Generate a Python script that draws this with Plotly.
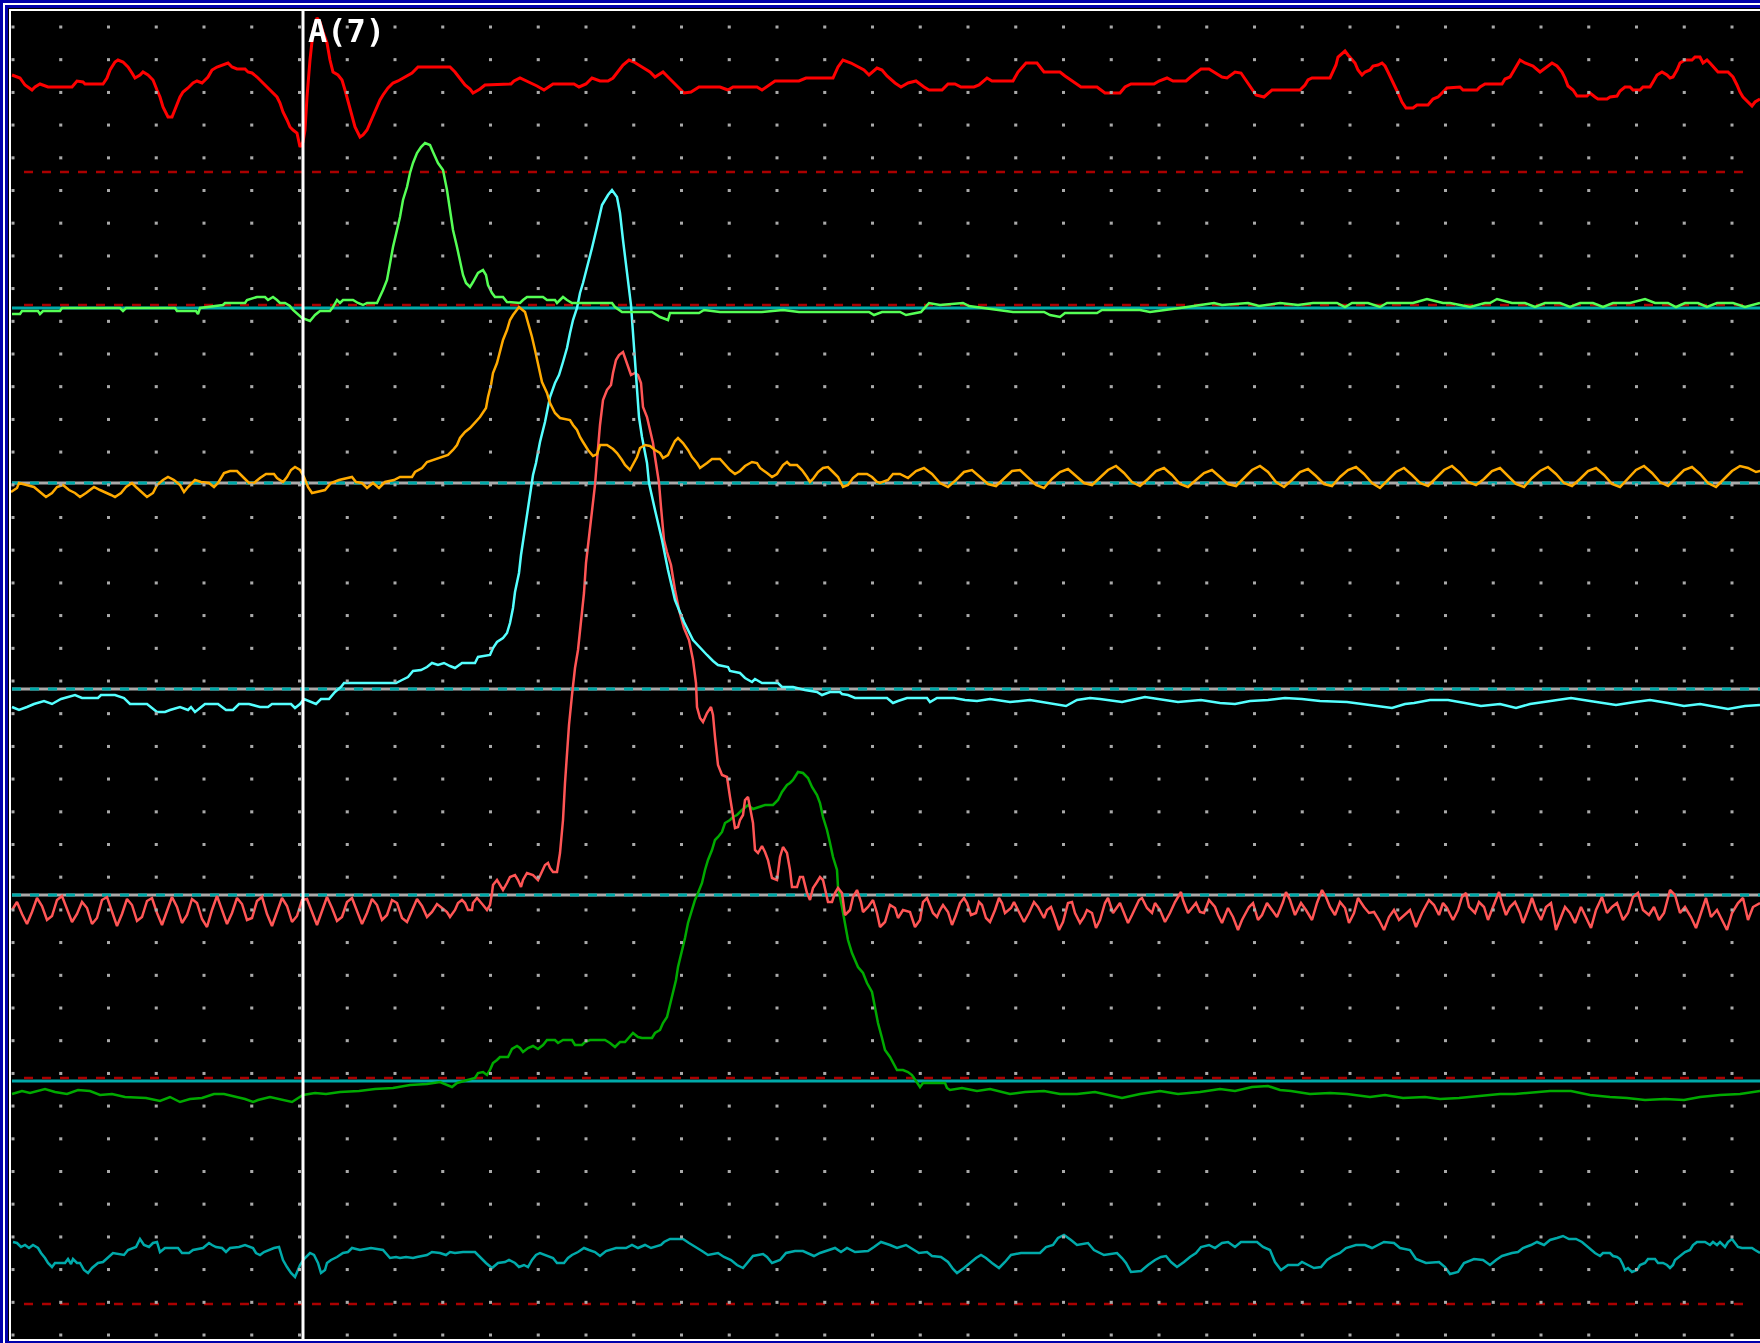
import numpy as np
import plotly.graph_objects as go

# ---------------- data (time in screen samples, level in screen rows) ----------------
RED_SAMPLES = [(12,75),(20,78),(25,85),(32,90),(35,87),(40,84),(48,87),(72,87),(77,81),(83,82),(85,84),(103,84),(107,78),(110,70),(115,62),(118,60),(123,62),(128,67),(132,73),(135,78),(140,75),(143,72),(148,75),(153,80),(157,90),(160,97),(163,107),(168,117),(172,117),(175,110),(180,97),(183,92),(188,88),(193,83),(197,81),(202,83),(205,80),(208,77),(212,70),(217,67),(228,63),(232,67),(237,69),(245,69),(248,72),(252,73),(257,77),(262,82),(267,86),(270,89),(273,92),(277,97),(280,103),(283,112),(287,120),(290,127),(293,130),(297,133),(300,147),(303,142),(305,130),(307,97),(310,60),(313,32),(317,18),(320,22),(323,32),(327,43),(330,60),(333,72),(338,75),(342,80),(345,90),(348,102),(352,115),(355,127),(360,137),(363,135),(367,130),(370,123),(373,117),(377,108),(380,100),(383,95),(388,88),(393,83),(398,81),(405,77),(412,73),(418,67),(450,67),(455,72),(460,78),(465,85),(470,89),(473,93),(480,89),(485,85),(511,84),(514,81),(520,78),(529,82),(537,86),(544,90),(549,87),(553,84),(574,84),(579,87),(586,84),(592,78),(600,81),(608,81),(613,78),(618,72),(623,65),(629,60),(634,62),(642,67),(650,72),(655,77),(663,72),(668,77),(676,85),(684,93),(691,92),(699,87),(720,87),(728,90),(733,87),(757,87),(762,90),(770,84),(775,81),(799,81),(806,78),(814,78),(833,78),(838,67),(843,60),(851,63),(856,66),(864,70),(869,75),(877,68),(882,70),(887,76),(895,83),(901,87),(908,83),(916,81),(924,87),(929,90),(942,90),(948,84),(955,84),(961,87),(974,87),(979,85),(987,78),(992,81),(1013,81),(1018,72),(1026,63),(1037,63),(1044,72),(1060,72),(1065,76),(1071,80),(1076,84),(1081,87),(1097,87),(1105,93),(1120,93),(1125,87),(1131,84),(1154,84),(1159,81),(1167,78),(1173,81),(1186,81),(1193,75),(1201,69),(1209,69),(1214,72),(1222,77),(1227,78),(1235,72),(1241,73),(1246,80),(1251,87),(1256,95),(1264,97),(1272,90),(1300,90),(1305,85),(1308,80),(1312,78),(1330,78),(1333,72),(1336,65),(1338,57),(1342,53),(1345,51),(1348,55),(1352,60),(1355,63),(1358,70),(1362,75),(1365,72),(1370,70),(1373,66),(1378,65),(1382,63),(1385,66),(1388,72),(1392,80),(1395,86),(1398,93),(1402,102),(1406,108),(1413,108),(1417,105),(1428,105),(1433,99),(1438,97),(1442,93),(1447,88),(1460,87),(1463,90),(1477,90),(1480,87),(1485,84),(1502,84),(1505,79),(1510,77),(1513,72),(1517,65),(1520,60),(1525,63),(1533,66),(1540,72),(1545,68),(1552,63),(1557,66),(1562,72),(1565,78),(1568,86),(1573,90),(1577,96),(1587,96),(1590,93),(1595,97),(1598,99),(1607,99),(1610,97),(1617,96),(1620,91),(1625,87),(1630,87),(1633,90),(1640,90),(1643,87),(1650,87),(1653,82),(1657,75),(1662,72),(1667,75),(1670,78),(1673,77),(1677,70),(1680,63),(1685,60),(1692,60),(1695,57),(1700,57),(1703,63),(1707,60),(1710,63),(1713,66),(1718,72),(1728,72),(1733,77),(1737,85),(1740,92),(1743,97),(1748,102),(1752,106),(1755,102),(1760,99)]

GREEN_SAMPLES = [(12,314),(20,314),(22,311),(38,311),(40,314),(43,311),(60,311),(62,308),(120,308),(123,311),(126,308),(175,308),(177,311),(196,311),(198,314),(200,308),(223,305),(225,303),(245,303),(247,300),(257,297),(265,297),(268,300),(273,297),(277,300),(280,303),(285,303),(290,306),(293,310),(298,315),(302,318),(310,321),(315,315),(320,311),(330,311),(333,307),(337,300),(340,303),(343,300),(353,300),(358,303),(363,305),(367,303),(377,303),(380,297),(383,290),(387,280),(390,263),(393,247),(397,230),(400,217),(403,200),(407,187),(410,173),(413,163),(417,153),(421,147),(425,143),(430,145),(433,152),(438,163),(443,170),(447,190),(450,210),(453,230),(457,247),(460,260),(463,275),(466,283),(470,287),(473,282),(478,273),(483,270),(486,275),(488,285),(492,293),(495,297),(503,297),(507,302),(520,303),(523,300),(527,297),(543,297),(547,300),(555,300),(557,303),(560,300),(563,297),(567,300),(572,303),(587,303),(612,303),(615,307),(622,312),(647,312),(652,312),(660,317),(668,320),(670,313),(699,313),(704,310),(720,312),(762,312),(783,310),(799,312),(825,312),(869,312),(874,315),(882,312),(900,312),(906,315),(921,312),(929,303),(940,305),(963,303),(969,306),(1013,312),(1044,312),(1050,315),(1060,317),(1065,313),(1097,313),(1102,310),(1140,310),(1150,312),(1180,308),(1214,303),(1222,305),(1248,303),(1259,306),(1280,303),(1298,305),(1313,303),(1337,303),(1345,307),(1352,303),(1368,303),(1380,307),(1387,303),(1413,303),(1427,299),(1443,303),(1450,303),(1470,307),(1485,303),(1490,303),(1497,299),(1512,303),(1525,303),(1535,307),(1545,303),(1560,303),(1570,307),(1580,303),(1593,303),(1603,307),(1613,303),(1630,303),(1645,299),(1655,303),(1668,303),(1676,307),(1685,303),(1698,303),(1707,307),(1717,303),(1733,303),(1745,307),(1760,303)]

CYAN_SAMPLES = [(12,707),(19,710),(27,707),(34,704),(44,701),(52,704),(61,699),(75,695),(82,698),(98,698),(101,695),(115,695),(124,698),(130,704),(147,704),(151,707),(157,712),(165,712),(170,710),(180,707),(188,710),(191,707),(195,712),(205,704),(218,704),(226,710),(233,710),(239,704),(249,704),(260,707),(268,707),(272,704),(291,704),(295,708),(300,704),(304,699),(312,702),(316,704),(321,699),(329,699),(335,692),(341,687),(344,683),(396,683),(402,680),(408,677),(413,671),(421,670),(427,667),(432,663),(438,665),(444,663),(450,666),(455,668),(462,663),(475,663),(478,657),(490,655),(493,648),(497,642),(503,638),(507,633),(510,623),(513,608),(515,592),(519,573),(521,555),(524,535),(527,515),(530,493),(533,475),(536,463),(540,442),(545,422),(550,397),(555,383),(559,375),(563,362),(567,348),(570,333),(573,320),(577,308),(580,293),(583,283),(587,268),(590,258),(592,248),(597,227),(602,205),(608,195),(612,190),(617,197),(620,213),(623,240),(626,265),(629,290),(631,305),(633,333),(635,360),(637,383),(639,417),(642,437),(647,463),(649,483),(652,497),(655,510),(662,540),(668,570),(675,600),(684,622),(693,640),(700,648),(707,655),(713,661),(718,665),(728,667),(730,671),(740,673),(745,678),(752,682),(755,679),(762,683),(778,683),(782,687),(793,687),(805,690),(817,692),(822,695),(830,692),(840,692),(842,694),(848,695),(855,698),(887,698),(893,703),(898,701),(907,698),(927,698),(930,702),(937,698),(954,698),(965,700),(977,701),(990,699),(1010,702),(1030,700),(1050,703),(1066,706),(1077,700),(1090,698),(1100,699),(1122,702),(1145,697),(1160,699),(1178,702),(1201,700),(1220,703),(1235,704),(1250,701),(1268,700),(1285,698),(1302,699),(1320,701),(1347,702),(1370,705),(1392,708),(1405,704),(1414,703),(1430,700),(1448,700),(1465,703),(1481,706),(1500,704),(1516,708),(1530,704),(1549,701),(1571,698),(1590,701),(1616,705),(1635,702),(1650,700),(1668,703),(1684,706),(1700,704),(1728,709),(1745,706),(1760,705)]

ORANGE_SAMPLES = [(11,492),(17,488),(19,483),(34,487),(40,492),(46,497),(52,493),(57,487),(63,485),(69,490),(75,493),(80,497),(86,493),(94,487),(100,490),(105,492),(111,495),(115,497),(121,493),(126,487),(132,483),(136,487),(142,492),(147,497),(153,493),(157,485),(163,480),(168,477),(174,480),(180,485),(184,492),(188,487),(195,480),(201,482),(209,483),(214,487),(218,483),(224,473),(230,471),(237,471),(243,477),(249,483),(254,483),(260,478),(266,474),(274,474),(277,478),(283,482),(287,477),(291,470),(295,467),(300,470),(304,477),(308,487),(312,493),(316,492),(325,490),(331,483),(339,480),(352,477),(356,482),(362,483),(367,488),(373,483),(379,488),(385,482),(394,480),(400,477),(412,477),(415,472),(422,468),(427,462),(437,459),(443,457),(448,455),(453,450),(457,445),(460,438),(465,432),(470,428),(475,423),(480,417),(486,408),(488,397),(491,385),(493,373),(497,363),(500,352),(503,340),(507,330),(510,320),(513,315),(517,310),(519,307),(525,312),(528,322),(532,337),(535,350),(538,365),(542,382),(547,393),(550,403),(555,413),(560,418),(570,420),(573,425),(577,430),(580,437),(583,442),(588,450),(593,456),(597,454),(600,445),(607,445),(613,449),(617,453),(622,460),(625,465),(630,470),(633,465),(637,457),(640,448),(645,445),(650,446),(655,450),(660,453),(663,458),(668,455),(672,447),(675,441),(678,438),(683,443),(688,450),(692,457),(697,463),(700,468),(707,463),(712,459),(720,459),(725,465),(730,470),(735,474),(740,471),(745,466),(752,462),(757,463),(760,468),(767,473),(772,477),(777,474),(783,465),(787,462),(790,465),(797,465),(802,470),(807,477),(810,482),(813,479),(818,472),(823,468),(828,467),(833,472),(838,477),(843,487),(848,485),(853,478),(858,474),(867,474),(872,477),(877,482),(880,483),(888,480),(893,474),(900,474)]
# tail of the orange channel, evenly sampled from t=908 to t=1764
ORANGE_TAIL = [478,471,468,474,483,487,480,472,470,477,484,486,478,471,470,478,485,488,479,472,469,476,483,485,477,470,466,473,482,486,479,471,468,475,484,487,480,473,470,477,484,486,478,470,466,472,482,487,480,472,469,476,484,486,477,470,467,474,483,488,480,472,468,475,483,486,478,470,466,473,482,485,479,471,468,476,484,487,478,471,467,474,483,486,479,471,468,475,484,487,478,470,466,473,482,486,478,470,467,474,483,487,479,471,466,468,472,470]
ORANGE_TAIL_SPAN = (908, 1764)

# light red channel: noisy head (evenly sampled), pulse, noisy tail
LRED_HEAD = [910,902,914,924,912,898,906,920,916,900,896,910,922,914,902,908,924,918,900,897,912,926,914,899,905,921,917,901,898,913,925,911,897,907,923,915,899,903,919,927,910,896,909,924,913,898,904,920,918,901,897,914,926,912,898,906,922,916,900,899,913,925,911,897,908,921,917,902,898,912,924,913,899,905,920,915,900,903,918,922,910,899,906,917,912,904,908,912]
LRED_HEAD_SPAN = (12, 447)
LRED_PULSE = [(450,917),(455,910),(458,903),(462,900),(465,903),(468,910),(472,910),(473,903),(477,898),(480,902),(483,905),(487,910),(490,905),(492,893),(493,885),(497,880),(500,885),(503,890),(507,883),(510,877),(515,875),(518,880),(521,887),(523,880),(527,873),(533,875),(538,880),(542,872),(545,865),(548,863),(550,868),(553,872),(557,872),(560,853),(563,820),(565,783),(567,750),(569,725),(572,695),(575,668),(578,650),(581,623),(584,593),(586,563),(589,537),(592,510),(595,485),(597,460),(600,425),(603,400),(607,390),(611,385),(613,373),(616,360),(619,355),(623,352),(625,358),(628,367),(631,375),(635,373),(638,375),(641,383),(643,407),(647,417),(650,430),(653,443),(655,457),(657,470),(659,483),(661,507),(664,540),(667,552),(671,565),(675,590),(679,610),(684,628),(689,640),(693,660),(696,683),(697,707),(700,718),(703,722),(707,713),(711,707),(713,715),(715,737),(718,765),(722,775),(727,777),(730,797),(733,817),(735,828),(738,827),(740,820),(743,815),(745,800),(748,797),(750,808),(753,823),(755,850),(758,853),(762,846),(765,852),(768,860),(772,878),(777,880),(778,870),(780,857),(783,847),(787,853),(790,870),(792,887),(797,887),(800,877),(803,877),(807,893),(810,900),(813,888),(817,882),(820,877),(823,880),(826,893),(828,902),(832,902),(835,893),(838,888),(842,893),(845,915),(850,910),(853,897),(857,890),(861,902),(863,912),(868,907),(873,900),(877,913),(880,927),(885,922),(890,905),(895,908),(898,918),(903,910),(910,912),(915,927),(920,920),(923,902),(927,898),(933,913),(937,917),(940,910),(943,905),(948,912),(952,925)]
LRED_TAIL = [(956,915),(960,903),(964,898),(967,903),(971,915),(976,913),(979,902),(982,905),(986,918),(990,922),(995,910),(999,898),(1002,903),(1005,913),(1011,908),(1014,902),(1018,910),(1024,922),(1029,913),(1034,902),(1038,907),(1044,918),(1047,910),(1051,907),(1055,918),(1059,930),(1063,922),(1068,903),(1072,902),(1075,913),(1080,923),(1084,917),(1087,910),(1092,913),(1096,928),(1100,920),(1105,903),(1108,898),(1113,913),(1117,907),(1120,903),(1124,913),(1128,923),(1132,915),(1139,900),(1142,898),(1147,908),(1152,913),(1155,903),(1160,910),(1165,922),(1170,913),(1175,902),(1181,892),(1183,900),(1188,913),(1192,908),(1196,903),(1200,912),(1204,913),(1209,900),(1215,907),(1218,915),(1222,923),(1228,908),(1233,917),(1238,930),(1242,920),(1249,907),(1253,903),(1258,920),(1262,915),(1267,903),(1272,910),(1277,917),(1283,902),(1286,892),(1290,900),(1295,915),(1301,903),(1306,910),(1312,920),(1317,903),(1322,890),(1326,897),(1330,907),(1335,915),(1340,902),(1345,908),(1349,923),(1354,913),(1358,898),(1364,907),(1369,913),(1374,912),(1379,920),(1384,930),(1389,917),(1394,910),(1399,920),(1404,915),(1410,910),(1416,927),(1422,913),(1429,900),(1434,905),(1439,915),(1443,903),(1447,908),(1453,920),(1458,910),(1462,897),(1466,893),(1469,907),(1475,913),(1479,902),(1484,907),(1488,920),(1493,907),(1499,892),(1502,903),(1506,915),(1510,907),(1515,902),(1520,913),(1523,923),(1528,910),(1532,898),(1536,910),(1541,920),(1546,907),(1551,903),(1556,930),(1560,920),(1565,907),(1570,913),(1575,923),(1581,907),(1586,917),(1591,928),(1596,910),(1602,897),(1607,913),(1612,907),(1617,903),(1623,920),(1628,913),(1633,897),(1638,893),(1643,910),(1649,915),(1654,907),(1659,920),(1664,913),(1670,890),(1675,895),(1680,913),(1685,907),(1691,917),(1696,928),(1701,913),(1706,898),(1711,917),(1717,910),(1722,920),(1727,930),(1732,913),(1738,903),(1743,898),(1748,920),(1753,907),(1760,903)]

DGREEN_SAMPLES = [(12,1094),(22,1091),(30,1093),(45,1089),(55,1092),(67,1094),(78,1090),(90,1091),(100,1095),(112,1094),(125,1097),(146,1098),(160,1101),(170,1097),(180,1102),(190,1099),(202,1098),(214,1094),(224,1094),(235,1097),(245,1099),(253,1102),(258,1100),(270,1097),(280,1099),(292,1102),(303,1095),(315,1093),(326,1094),(340,1092),(359,1091),(375,1089),(393,1088),(410,1085),(427,1084),(440,1082),(452,1087),(457,1083),(475,1078),(478,1073),(483,1072),(487,1075),(490,1070),(493,1063),(497,1060),(500,1057),(508,1057),(512,1049),(517,1046),(520,1048),(523,1052),(528,1048),(533,1046),(538,1049),(543,1045),(547,1040),(555,1040),(558,1043),(563,1040),(572,1040),(575,1045),(582,1045),(585,1042),(590,1040),(605,1040),(610,1043),(615,1047),(620,1042),(625,1042),(630,1037),(633,1033),(638,1037),(642,1038),(652,1038),(655,1033),(660,1030),(663,1023),(667,1017),(670,1005),(673,993),(676,980),(678,967),(682,952),(685,938),(688,923),(692,910),(695,900),(698,893),(702,883),(705,870),(708,860),(712,850),(715,840),(718,837),(722,832),(725,823),(730,820),(733,817),(737,815),(742,810),(748,805),(753,809),(758,807),(765,805),(773,805),(778,800),(782,792),(787,785),(790,783),(793,780),(798,772),(803,773),(808,778),(812,787),(817,795),(820,803),(823,817),(827,830),(830,843),(833,857),(837,870),(838,887),(842,907),(845,923),(848,940),(852,953),(855,960),(858,967),(863,973),(867,983),(872,992),(875,1007),(878,1023),(882,1038),(885,1050),(890,1057),(893,1062),(897,1070),(903,1070),(908,1072),(912,1075),(915,1080),(920,1087),(923,1083),(932,1083),(945,1083),(947,1088),(950,1090),(962,1088),(977,1091),(990,1089),(1010,1094),(1025,1092),(1044,1091),(1060,1094),(1077,1094),(1095,1092),(1122,1098),(1140,1094),(1160,1091),(1178,1094),(1200,1092),(1220,1089),(1235,1091),(1252,1087),(1268,1086),(1280,1090),(1291,1091),(1310,1094),(1330,1093),(1347,1094),(1370,1097),(1385,1095),(1403,1098),(1425,1097),(1440,1099),(1459,1098),(1480,1096),(1500,1094),(1515,1094),(1535,1092),(1550,1091),(1571,1091),(1590,1095),(1610,1097),(1627,1098),(1645,1100),(1665,1099),(1684,1100),(1700,1097),(1720,1095),(1740,1094),(1760,1091)]

TEAL_SAMPLES = [(13,1242),(17,1243),(21,1247),(25,1245),(29,1248),(33,1245),(38,1248),(41,1253),(45,1258),(48,1263),(52,1267),(55,1263),(65,1263),(68,1259),(71,1264),(73,1259),(77,1263),(80,1263),(84,1270),(88,1273),(92,1268),(98,1263),(103,1262),(109,1257),(113,1253),(124,1255),(128,1250),(136,1247),(140,1239),(144,1245),(149,1247),(153,1243),(157,1242),(160,1252),(165,1248),(178,1248),(182,1253),(189,1253),(193,1250),(203,1248),(209,1243),(212,1245),(216,1247),(222,1248),(226,1252),(230,1248),(239,1247),(245,1245),(253,1248),(256,1253),(260,1255),(264,1252),(274,1248),(279,1247),(281,1253),(283,1260),(287,1267),(291,1273),(295,1277),(298,1270),(300,1265),(304,1259),(310,1253),(314,1255),(318,1263),(321,1273),(325,1270),(327,1263),(331,1260),(337,1257),(343,1253),(348,1252),(352,1248),(360,1250),(371,1248),(383,1250),(387,1255),(390,1258),(396,1257),(400,1258),(406,1257),(413,1258),(417,1257),(427,1255),(432,1252),(440,1253),(446,1255),(450,1252),(455,1253),(463,1252),(475,1252),(478,1255),(482,1260),(486,1263),(492,1268),(498,1263),(505,1262),(509,1260),(515,1263),(519,1267),(524,1265),(528,1267),(532,1260),(536,1255),(540,1253),(545,1255),(553,1258),(557,1263),(564,1263),(568,1258),(572,1255),(578,1252),(584,1248),(589,1250),(595,1252),(600,1256),(606,1251),(616,1248),(626,1248),(632,1245),(638,1248),(645,1245),(651,1248),(661,1245),(664,1242),(670,1239),(683,1239),(689,1243),(696,1247),(702,1251),(708,1255),(718,1253),(724,1257),(731,1260),(737,1265),(743,1268),(748,1262),(753,1256),(763,1254),(767,1257),(772,1263),(780,1260),(786,1253),(795,1251),(803,1251),(807,1253),(814,1256),(820,1253),(826,1251),(835,1248),(841,1252),(847,1248),(855,1252),(868,1251),(874,1247),(881,1242),(890,1245),(897,1248),(906,1245),(912,1249),(919,1253),(927,1252),(932,1256),(941,1257),(948,1262),(953,1269),(957,1273),(964,1268),(970,1263),(976,1258),(981,1255),(986,1258),(992,1263),(999,1268),(1005,1262),(1011,1255),(1021,1253),(1040,1253),(1046,1247),(1053,1245),(1058,1238),(1064,1235),(1071,1240),(1077,1245),(1088,1243),(1094,1250),(1104,1255),(1117,1253),(1122,1258),(1126,1263),(1131,1272),(1141,1271),(1148,1265),(1155,1260),(1161,1257),(1166,1256),(1171,1262),(1177,1267),(1184,1262),(1190,1257),(1196,1253),(1201,1247),(1209,1245),(1215,1248),(1222,1243),(1228,1242),(1235,1247),(1241,1242),(1257,1242),(1263,1247),(1270,1250),(1275,1262),(1281,1270),(1288,1265),(1298,1265),(1302,1262),(1308,1265),(1314,1268),(1321,1267),(1327,1260),(1333,1256),(1340,1253),(1346,1248),(1356,1245),(1365,1245),(1372,1248),(1378,1245),(1384,1242),(1394,1243),(1400,1248),(1410,1250),(1416,1259),(1426,1263),(1439,1262),(1445,1267),(1450,1274),(1458,1272),(1464,1263),(1474,1259),(1483,1260),(1490,1265),(1496,1260),(1502,1256),(1512,1253),(1518,1252),(1523,1248),(1531,1245),(1537,1242),(1544,1245),(1550,1240),(1557,1238),(1563,1236),(1569,1239),(1576,1239),(1582,1242),(1589,1248),(1595,1253),(1600,1256),(1603,1253),(1610,1253),(1613,1256),(1617,1257),(1620,1259),(1623,1265),(1625,1270),(1628,1268),(1632,1272),(1637,1270),(1640,1265),(1645,1263),(1648,1259),(1655,1259),(1658,1263),(1663,1263),(1667,1265),(1670,1268),(1673,1265),(1675,1260),(1680,1256),(1685,1252),(1690,1250),(1693,1245),(1697,1242),(1705,1242),(1710,1245),(1713,1242),(1717,1245),(1720,1242),(1725,1247),(1728,1242),(1732,1239),(1735,1243),(1738,1247),(1742,1248),(1752,1248),(1755,1250),(1760,1253)]

CURSOR_T = 303
CURSOR_LABEL = "A(7)"

# channel baselines / reference levels (screen rows)
BASE_SOLID = [308, 1081]
BASE_ALT = [483, 689, 895]
REF_DASHED = [172, 305, 1078, 1304]

# ---------------- styling ----------------
W, H = 1760, 1343
BLUE = "#0000aa"
GRAY = "#aaaaaa"
TEALC = "#00aaaa"
DRED = "#aa0000"

def split(pairs):
    t, v = zip(*pairs)
    return list(t), list(v)

def even(span, vals):
    return list(np.linspace(span[0], span[1], len(vals))), list(vals)

fig = go.Figure()

# graticule dots
gx, gy = [], []
for i in range(37):
    for j in range(41):
        gx.append(13 + 47.75 * i)
        gy.append(27 + 32.7 * j)
fig.add_trace(go.Scattergl(x=gx, y=gy, mode="markers",
                           marker=dict(symbol="square", size=3, color=GRAY, line=dict(width=0)),
                           hoverinfo="skip"))

shapes = []
for y in BASE_ALT:
    shapes.append(dict(type="line", x0=12, x1=W, y0=y, y1=y, line=dict(color=GRAY, width=3), layer="below"))
    shapes.append(dict(type="line", x0=12, x1=W, y0=y, y1=y, line=dict(color=TEALC, width=3, dash="9px,9px"), layer="below"))
for y in BASE_SOLID:
    shapes.append(dict(type="line", x0=12, x1=W, y0=y, y1=y, line=dict(color=TEALC, width=3), layer="below"))
for y in REF_DASHED:
    shapes.append(dict(type="line", x0=24, x1=W - 8, y0=y, y1=y, line=dict(color=DRED, width=2.5, dash="9px,9px"), layer="below"))

def add(ts, vs, color, width):
    fig.add_trace(go.Scatter(x=ts, y=vs, mode="lines",
                             line=dict(color=color, width=width), hoverinfo="skip"))

t, v = split(TEAL_SAMPLES); add(t, v, "#00aaaa", 2.5)
t, v = split(DGREEN_SAMPLES); add(t, v, "#00aa00", 2.5)
th, vh = even(LRED_HEAD_SPAN, LRED_HEAD)
tp, vp = split(LRED_PULSE)
tt, vt = split(LRED_TAIL)
add(th + tp + tt, vh + vp + vt, "#ff5555", 2.5)
t, v = split(CYAN_SAMPLES); add(t, v, "#55ffff", 2.5)
t1, v1 = split(ORANGE_SAMPLES)
t2, v2 = even(ORANGE_TAIL_SPAN, ORANGE_TAIL)
add(t1 + t2, v1 + v2, "#ffaa00", 2.5)
t, v = split(GREEN_SAMPLES); add(t, v, "#55ff55", 2.5)
t, v = split(RED_SAMPLES); add(t, v, "#ff0000", 3)

# cursor
shapes.append(dict(type="line", x0=CURSOR_T, x1=CURSOR_T, y0=11, y1=1339, line=dict(color="white", width=3), layer="above"))

# frame
def rect(x0, x1, y0, y1, c):
    return dict(type="rect", x0=x0, x1=x1, y0=y0, y1=y1, fillcolor=c, line=dict(width=0), layer="above")
shapes += [
    rect(0, 3, 0, H, BLUE), rect(0, W, 0, 3, BLUE),
    rect(3, 5, 3, H, "white"), rect(3, W, 3, 5, "white"),
    rect(5, 8, 5, H, BLUE), rect(5, W, 5, 8, BLUE),
    rect(9, 11, 9, 1341, "white"), rect(9, W, 9, 11, "white"),
    rect(9, W, 1339, 1341, "white"), rect(5, W, 1341, H, BLUE),
]

fig.update_layout(
    width=W, height=H,
    margin=dict(l=0, r=0, t=0, b=0),
    paper_bgcolor="black", plot_bgcolor="black",
    showlegend=False,
    xaxis=dict(range=[0, W], visible=False, fixedrange=True),
    yaxis=dict(range=[H, 0], visible=False, fixedrange=True),
    shapes=shapes,
    annotations=[dict(x=CURSOR_T + 3, y=31, xref="x", yref="y", text="<b>" + CURSOR_LABEL + "</b>",
                      showarrow=False, xanchor="left", yanchor="middle",
                      font=dict(family="DejaVu Sans Mono", size=32, color="white"))],
)

fig.write_html("out.html", config={"displayModeBar": False})
